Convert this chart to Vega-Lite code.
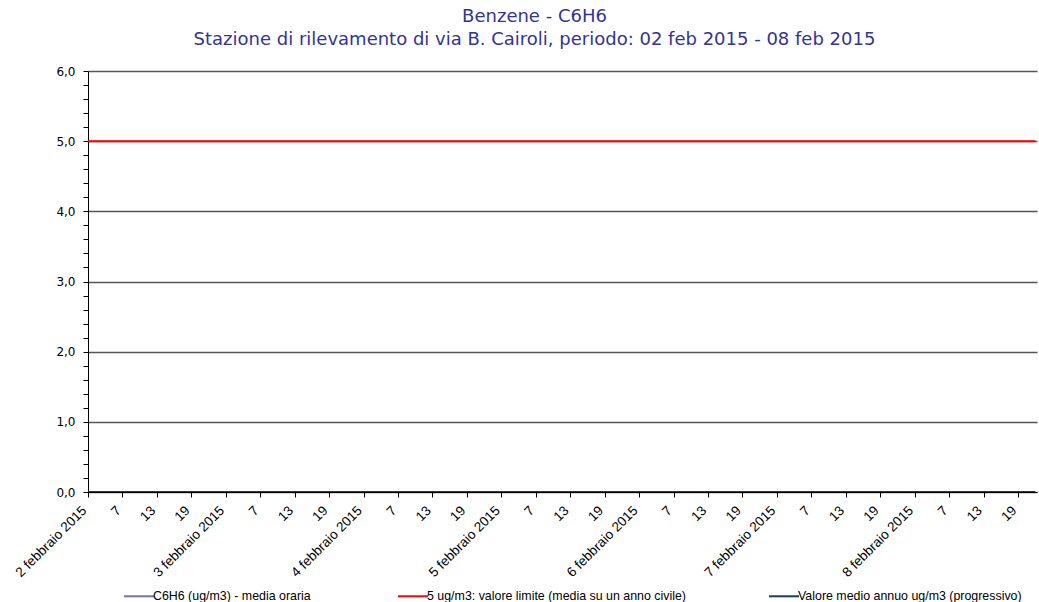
{
  "$schema": "https://vega.github.io/schema/vega-lite/v6.json",
  "width": 949,
  "height": 421,
  "autosize": "none",
  "padding": {"left": 88, "top": 71, "right": 2, "bottom": 110},
  "background": "white",
  "config": {"font": "Liberation Sans", "view": {"stroke": null}},
  "title": {
    "text": ["Benzene - C6H6", "Stazione di rilevamento di via B. Cairoli, periodo: 02 feb 2015 - 08 feb 2015"],
    "anchor": "middle",
    "frame": "group",
    "dx": -28,
    "offset": 16,
    "font": "DejaVu Sans",
    "fontSize": 18,
    "fontWeight": "normal",
    "color": "#333399",
    "lineHeight": 23
  },
  "data": {"values": [
    {"ora":0,"c6h6":0,"limite":5,"media":0},{"ora":1,"c6h6":0,"limite":5,"media":0},{"ora":2,"c6h6":0,"limite":5,"media":0},{"ora":3,"c6h6":0,"limite":5,"media":0},{"ora":4,"c6h6":0,"limite":5,"media":0},{"ora":5,"c6h6":0,"limite":5,"media":0},
    {"ora":6,"c6h6":0,"limite":5,"media":0},{"ora":7,"c6h6":0,"limite":5,"media":0},{"ora":8,"c6h6":0,"limite":5,"media":0},{"ora":9,"c6h6":0,"limite":5,"media":0},{"ora":10,"c6h6":0,"limite":5,"media":0},{"ora":11,"c6h6":0,"limite":5,"media":0},
    {"ora":12,"c6h6":0,"limite":5,"media":0},{"ora":13,"c6h6":0,"limite":5,"media":0},{"ora":14,"c6h6":0,"limite":5,"media":0},{"ora":15,"c6h6":0,"limite":5,"media":0},{"ora":16,"c6h6":0,"limite":5,"media":0},{"ora":17,"c6h6":0,"limite":5,"media":0},
    {"ora":18,"c6h6":0,"limite":5,"media":0},{"ora":19,"c6h6":0,"limite":5,"media":0},{"ora":20,"c6h6":0,"limite":5,"media":0},{"ora":21,"c6h6":0,"limite":5,"media":0},{"ora":22,"c6h6":0,"limite":5,"media":0},{"ora":23,"c6h6":0,"limite":5,"media":0},
    {"ora":24,"c6h6":0,"limite":5,"media":0},{"ora":25,"c6h6":0,"limite":5,"media":0},{"ora":26,"c6h6":0,"limite":5,"media":0},{"ora":27,"c6h6":0,"limite":5,"media":0},{"ora":28,"c6h6":0,"limite":5,"media":0},{"ora":29,"c6h6":0,"limite":5,"media":0},
    {"ora":30,"c6h6":0,"limite":5,"media":0},{"ora":31,"c6h6":0,"limite":5,"media":0},{"ora":32,"c6h6":0,"limite":5,"media":0},{"ora":33,"c6h6":0,"limite":5,"media":0},{"ora":34,"c6h6":0,"limite":5,"media":0},{"ora":35,"c6h6":0,"limite":5,"media":0},
    {"ora":36,"c6h6":0,"limite":5,"media":0},{"ora":37,"c6h6":0,"limite":5,"media":0},{"ora":38,"c6h6":0,"limite":5,"media":0},{"ora":39,"c6h6":0,"limite":5,"media":0},{"ora":40,"c6h6":0,"limite":5,"media":0},{"ora":41,"c6h6":0,"limite":5,"media":0},
    {"ora":42,"c6h6":0,"limite":5,"media":0},{"ora":43,"c6h6":0,"limite":5,"media":0},{"ora":44,"c6h6":0,"limite":5,"media":0},{"ora":45,"c6h6":0,"limite":5,"media":0},{"ora":46,"c6h6":0,"limite":5,"media":0},{"ora":47,"c6h6":0,"limite":5,"media":0},
    {"ora":48,"c6h6":0,"limite":5,"media":0},{"ora":49,"c6h6":0,"limite":5,"media":0},{"ora":50,"c6h6":0,"limite":5,"media":0},{"ora":51,"c6h6":0,"limite":5,"media":0},{"ora":52,"c6h6":0,"limite":5,"media":0},{"ora":53,"c6h6":0,"limite":5,"media":0},
    {"ora":54,"c6h6":0,"limite":5,"media":0},{"ora":55,"c6h6":0,"limite":5,"media":0},{"ora":56,"c6h6":0,"limite":5,"media":0},{"ora":57,"c6h6":0,"limite":5,"media":0},{"ora":58,"c6h6":0,"limite":5,"media":0},{"ora":59,"c6h6":0,"limite":5,"media":0},
    {"ora":60,"c6h6":0,"limite":5,"media":0},{"ora":61,"c6h6":0,"limite":5,"media":0},{"ora":62,"c6h6":0,"limite":5,"media":0},{"ora":63,"c6h6":0,"limite":5,"media":0},{"ora":64,"c6h6":0,"limite":5,"media":0},{"ora":65,"c6h6":0,"limite":5,"media":0},
    {"ora":66,"c6h6":0,"limite":5,"media":0},{"ora":67,"c6h6":0,"limite":5,"media":0},{"ora":68,"c6h6":0,"limite":5,"media":0},{"ora":69,"c6h6":0,"limite":5,"media":0},{"ora":70,"c6h6":0,"limite":5,"media":0},{"ora":71,"c6h6":0,"limite":5,"media":0},
    {"ora":72,"c6h6":0,"limite":5,"media":0},{"ora":73,"c6h6":0,"limite":5,"media":0},{"ora":74,"c6h6":0,"limite":5,"media":0},{"ora":75,"c6h6":0,"limite":5,"media":0},{"ora":76,"c6h6":0,"limite":5,"media":0},{"ora":77,"c6h6":0,"limite":5,"media":0},
    {"ora":78,"c6h6":0,"limite":5,"media":0},{"ora":79,"c6h6":0,"limite":5,"media":0},{"ora":80,"c6h6":0,"limite":5,"media":0},{"ora":81,"c6h6":0,"limite":5,"media":0},{"ora":82,"c6h6":0,"limite":5,"media":0},{"ora":83,"c6h6":0,"limite":5,"media":0},
    {"ora":84,"c6h6":0,"limite":5,"media":0},{"ora":85,"c6h6":0,"limite":5,"media":0},{"ora":86,"c6h6":0,"limite":5,"media":0},{"ora":87,"c6h6":0,"limite":5,"media":0},{"ora":88,"c6h6":0,"limite":5,"media":0},{"ora":89,"c6h6":0,"limite":5,"media":0},
    {"ora":90,"c6h6":0,"limite":5,"media":0},{"ora":91,"c6h6":0,"limite":5,"media":0},{"ora":92,"c6h6":0,"limite":5,"media":0},{"ora":93,"c6h6":0,"limite":5,"media":0},{"ora":94,"c6h6":0,"limite":5,"media":0},{"ora":95,"c6h6":0,"limite":5,"media":0},
    {"ora":96,"c6h6":0,"limite":5,"media":0},{"ora":97,"c6h6":0,"limite":5,"media":0},{"ora":98,"c6h6":0,"limite":5,"media":0},{"ora":99,"c6h6":0,"limite":5,"media":0},{"ora":100,"c6h6":0,"limite":5,"media":0},{"ora":101,"c6h6":0,"limite":5,"media":0},
    {"ora":102,"c6h6":0,"limite":5,"media":0},{"ora":103,"c6h6":0,"limite":5,"media":0},{"ora":104,"c6h6":0,"limite":5,"media":0},{"ora":105,"c6h6":0,"limite":5,"media":0},{"ora":106,"c6h6":0,"limite":5,"media":0},{"ora":107,"c6h6":0,"limite":5,"media":0},
    {"ora":108,"c6h6":0,"limite":5,"media":0},{"ora":109,"c6h6":0,"limite":5,"media":0},{"ora":110,"c6h6":0,"limite":5,"media":0},{"ora":111,"c6h6":0,"limite":5,"media":0},{"ora":112,"c6h6":0,"limite":5,"media":0},{"ora":113,"c6h6":0,"limite":5,"media":0},
    {"ora":114,"c6h6":0,"limite":5,"media":0},{"ora":115,"c6h6":0,"limite":5,"media":0},{"ora":116,"c6h6":0,"limite":5,"media":0},{"ora":117,"c6h6":0,"limite":5,"media":0},{"ora":118,"c6h6":0,"limite":5,"media":0},{"ora":119,"c6h6":0,"limite":5,"media":0},
    {"ora":120,"c6h6":0,"limite":5,"media":0},{"ora":121,"c6h6":0,"limite":5,"media":0},{"ora":122,"c6h6":0,"limite":5,"media":0},{"ora":123,"c6h6":0,"limite":5,"media":0},{"ora":124,"c6h6":0,"limite":5,"media":0},{"ora":125,"c6h6":0,"limite":5,"media":0},
    {"ora":126,"c6h6":0,"limite":5,"media":0},{"ora":127,"c6h6":0,"limite":5,"media":0},{"ora":128,"c6h6":0,"limite":5,"media":0},{"ora":129,"c6h6":0,"limite":5,"media":0},{"ora":130,"c6h6":0,"limite":5,"media":0},{"ora":131,"c6h6":0,"limite":5,"media":0},
    {"ora":132,"c6h6":0,"limite":5,"media":0},{"ora":133,"c6h6":0,"limite":5,"media":0},{"ora":134,"c6h6":0,"limite":5,"media":0},{"ora":135,"c6h6":0,"limite":5,"media":0},{"ora":136,"c6h6":0,"limite":5,"media":0},{"ora":137,"c6h6":0,"limite":5,"media":0},
    {"ora":138,"c6h6":0,"limite":5,"media":0},{"ora":139,"c6h6":0,"limite":5,"media":0},{"ora":140,"c6h6":0,"limite":5,"media":0},{"ora":141,"c6h6":0,"limite":5,"media":0},{"ora":142,"c6h6":0,"limite":5,"media":0},{"ora":143,"c6h6":0,"limite":5,"media":0},
    {"ora":144,"c6h6":0,"limite":5,"media":0},{"ora":145,"c6h6":0,"limite":5,"media":0},{"ora":146,"c6h6":0,"limite":5,"media":0},{"ora":147,"c6h6":0,"limite":5,"media":0},{"ora":148,"c6h6":0,"limite":5,"media":0},{"ora":149,"c6h6":0,"limite":5,"media":0},
    {"ora":150,"c6h6":0,"limite":5,"media":0},{"ora":151,"c6h6":0,"limite":5,"media":0},{"ora":152,"c6h6":0,"limite":5,"media":0},{"ora":153,"c6h6":0,"limite":5,"media":0},{"ora":154,"c6h6":0,"limite":5,"media":0},{"ora":155,"c6h6":0,"limite":5,"media":0},
    {"ora":156,"c6h6":0,"limite":5,"media":0},{"ora":157,"c6h6":0,"limite":5,"media":0},{"ora":158,"c6h6":0,"limite":5,"media":0},{"ora":159,"c6h6":0,"limite":5,"media":0},{"ora":160,"c6h6":0,"limite":5,"media":0},{"ora":161,"c6h6":0,"limite":5,"media":0},
    {"ora":162,"c6h6":0,"limite":5,"media":0},{"ora":163,"c6h6":0,"limite":5,"media":0},{"ora":164,"c6h6":0,"limite":5,"media":0},{"ora":165,"c6h6":0,"limite":5,"media":0}
  ]},
  "transform": [{"fold": ["c6h6", "limite", "media"], "as": ["serie", "valore"]}],
  "mark": {"type": "line", "strokeWidth": 2, "clip": true},
  "encoding": {
    "x": {
      "field": "ora", "type": "quantitative",
      "scale": {"domain": [0, 165.3], "nice": false, "zero": false},
      "axis": {
        "title": null,
        "values": [0,6,12,18,24,30,36,42,48,54,60,66,72,78,84,90,96,102,108,114,120,126,132,138,144,150,156,162],
        "labelExpr": "datum.value % 24 == 0 ? (2 + datum.value / 24) + ' febbraio 2015' : '' + (datum.value % 24 + 1)",
        "labelAngle": -45,
        "labelAlign": "right",
        "labelBaseline": "middle",
        "labelFont": "Liberation Sans",
        "labelFontSize": 13.5,
        "labelColor": "#000000",
        "labelPadding": 11,
        "labelOffset": -4,
        "labelOverlap": false,
        "labelBound": false,
        "labelFlush": false,
        "tickSize": 5,
        "tickColor": "#000000",
        "domainColor": "#000000",
        "domainWidth": 1,
        "grid": false
      }
    },
    "y": {
      "field": "valore", "type": "quantitative",
      "scale": {"domain": [0, 6], "nice": false},
      "axis": {
        "title": null,
        "values": [0,0.2,0.4,0.6,0.8,1,1.2,1.4,1.6,1.8,2,2.2,2.4,2.6,2.8,3,3.2,3.4,3.6,3.8,4,4.2,4.4,4.6,4.8,5,5.2,5.4,5.6,5.8,6],
        "labelExpr": "abs(datum.value - round(datum.value)) < 0.01 ? replace(format(datum.value, '.1f'), '.', ',') : ''",
        "labelFont": "DejaVu Sans",
        "labelFontSize": 12,
        "labelColor": "#000000",
        "labelPadding": 8,
        "labelOverlap": false,
        "tickSize": 5,
        "tickColor": "#000000",
        "domainColor": "#000000",
        "grid": true,
        "gridColor": "#555555",
        "gridWidth": 1.5,
        "gridOpacity": {"condition": {"test": "abs(datum.value - round(datum.value)) < 0.01", "value": 1}, "value": 0}
      }
    },
    "color": {
      "field": "serie", "type": "nominal",
      "scale": {"domain": ["c6h6", "limite", "media"], "range": ["#7272a8", "#ff0000", "#1f3a60"]},
      "legend": {
        "orient": "none",
        "legendX": 35,
        "legendY": 509,
        "direction": "horizontal",
        "title": null,
        "symbolType": "stroke",
        "symbolSize": 900,
        "symbolStrokeWidth": 2,
        "labelOffset": -2,
        "columnPadding": 79,
        "labelFont": "Liberation Sans",
        "labelFontSize": 12.4,
        "labelColor": "#000000",
        "labelLimit": 400,
        "labelExpr": "datum.label == 'c6h6' ? 'C6H6 (ug/m3)  - media oraria' : datum.label == 'limite' ? '5 ug/m3: valore limite (media su un anno civile)' : 'Valore medio annuo ug/m3 (progressivo)'"
      }
    }
  }
}
